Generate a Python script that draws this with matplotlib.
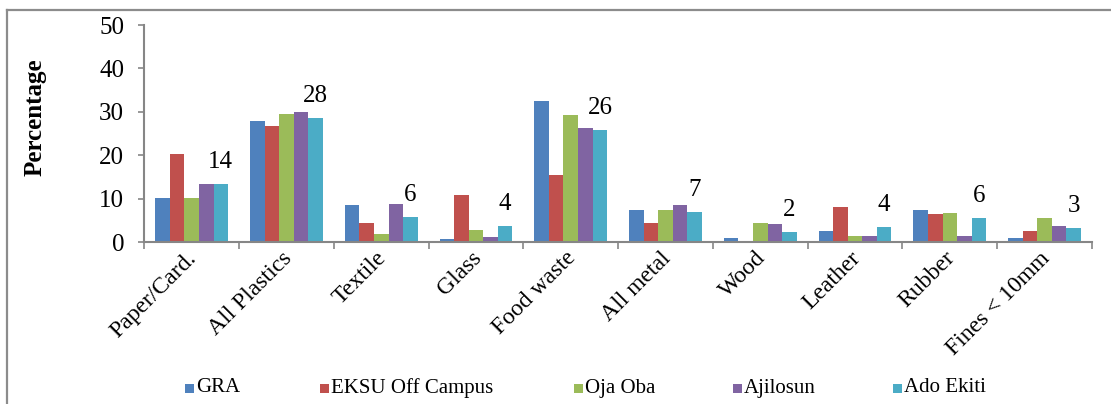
import matplotlib
matplotlib.use("Agg")
import matplotlib.pyplot as plt
import numpy as np
from matplotlib.lines import Line2D
from matplotlib.patches import Rectangle
import matplotlib.transforms as mtransforms

plt.rcParams['font.family'] = ['Liberation Serif', 'DejaVu Serif']

categories = ["Paper/Card.", "All Plastics", "Textile", "Glass", "Food waste",
              "All metal", "Wood", "Leather", "Rubber", "Fines < 10mm"]
series_names = ["GRA", "EKSU Off Campus", "Oja Oba", "Ajilosun", "Ado Ekiti"]
gra      = [10.2, 28.0, 8.5, 0.8, 32.5, 7.5, 0.9, 2.5, 7.5, 0.9]
eksu     = [20.4, 26.7, 4.5, 10.8, 15.5, 4.5, 0.0, 8.2, 6.5, 2.5]
oja_oba  = [10.2, 29.6, 1.8, 2.8, 29.4, 7.4, 4.4, 1.5, 6.8, 5.5]
ajilosun = [13.5, 29.9, 8.8, 1.3, 26.2, 8.5, 4.1, 1.5, 1.5, 3.8]
ado      = [13.5, 28.5, 5.9, 3.8, 25.9, 7.0, 2.3, 3.5, 5.6, 3.2]
label_values = [14, 28, 6, 4, 26, 7, 2, 4, 6, 3]
yticks = [0, 10, 20, 30, 40, 50]

series = [gra, eksu, oja_oba, ajilosun, ado]
colors = ["#4F81BD", "#C0504D", "#9BBB59", "#8064A2", "#4BACC6"]

W, H = 1111, 404
fig = plt.figure(figsize=(W / 100, H / 100), dpi=100)
ax = fig.add_axes([144.3 / W, 1 - 242.3 / H, (1092 - 144.3) / W, (242.3 - 25) / H])

n = len(categories)
x = np.arange(n) + 0.5
bw = 0.1536
for i, (vals, c) in enumerate(zip(series, colors)):
    ax.bar(x + (i - 2) * bw, vals, width=bw, color=c, edgecolor='none', zorder=2)

# value labels above last series
for xi, v, lab in zip(x, ado, label_values):
    ax.annotate(str(lab), (xi + 2 * bw, v), xytext=(0, 11.5), textcoords='offset points',
                ha='center', va='baseline', fontsize=18)

ax.set_xlim(0, n)
ax.set_ylim(0, 50)
ax.set_yticks(yticks)
ax.tick_params(axis='y', labelsize=18, length=4.5, width=1.2, color='#868686', pad=10)
ax.set_xticks(np.arange(n + 1))
ax.set_xticklabels([])
ax.tick_params(axis='x', length=5, width=1.2, color='#868686', direction='out')
ax.set_xticks(x, minor=True)
ax.set_xticklabels(categories, minor=True)
ax.tick_params(axis='x', which='minor', length=0, labelsize=17)
offset = mtransforms.ScaledTranslation(2 / 100, -8 / 100, fig.dpi_scale_trans)
for lbl in ax.get_xticklabels(minor=True):
    lbl.set_rotation(45)
    lbl.set_rotation_mode('anchor')
    lbl.set_ha('right')
    lbl.set_va('center')
    lbl.set_transform(lbl.get_transform() + offset)

for s in ['top', 'right']:
    ax.spines[s].set_visible(False)
for s in ['left', 'bottom']:
    ax.spines[s].set_color('#868686')
    ax.spines[s].set_linewidth(1.5)

ax.set_ylabel("Percentage", fontsize=18, fontweight='bold')
ax.yaxis.set_label_coords(-(144.3 - 47) / (1092 - 144.3), (242.3 - 117) / (242.3 - 25))

# legend drawn manually
leg_x = [185, 320, 574, 733, 893]
leg_y = 388
for lx, name, c in zip(leg_x, series_names, colors):
    fig.patches.append(Rectangle(((lx) / W, 1 - (leg_y + 4.5) / H), 9 / W, 9 / H,
                                 transform=fig.transFigure, facecolor=c, edgecolor='none'))
    fig.text((lx + 11) / W, 1 - leg_y / H, name, fontsize=15, va='center', ha='left',
             family=['Liberation Serif', 'DejaVu Serif'])

# chart area border (top and left)
fig.add_artist(Line2D([7 / W, 1.0], [1 - 10 / H, 1 - 10 / H], transform=fig.transFigure,
                      color='#8c8c8c', lw=1.6))
fig.add_artist(Line2D([7 / W, 7 / W], [1 - 10 / H, 0], transform=fig.transFigure,
                      color='#8c8c8c', lw=1.6))

fig.savefig("out.png", dpi=100)
